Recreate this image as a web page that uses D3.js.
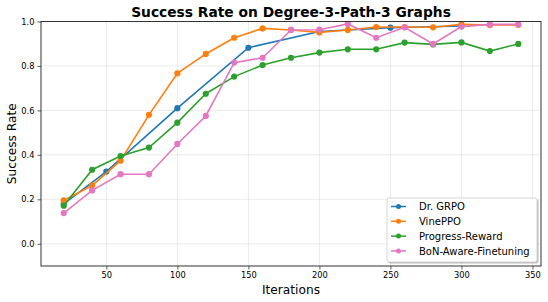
<!DOCTYPE html>
<html><head><meta charset="utf-8">
<script src="https://cdn.jsdelivr.net/npm/d3@7"></script>
<style>body{margin:0;background:#fff;} svg{display:block;font-family:"DejaVu Sans",sans-serif;}</style>
</head><body><svg id="c" width="548" height="302"></svg>
<script>
const xsFull = [20,40,60,80,100,120,140,160,180,200,220,240,260,280,300,320,340];
const xsGrpo = [20,50,100,150,200,250,300];
const drGrpo = [0.18,0.325,0.61,0.882,0.955,0.972,0.98];
const vinePPO = [0.195,0.262,0.374,0.58,0.767,0.854,0.927,0.969,0.962,0.951,0.962,0.975,0.975,0.974,0.987,0.984,0.985];
const progressReward = [0.171,0.333,0.395,0.433,0.545,0.675,0.752,0.804,0.837,0.86,0.875,0.875,0.905,0.897,0.906,0.867,0.899];
const bonAware = [0.138,0.24,0.313,0.313,0.449,0.575,0.815,0.837,0.962,0.963,0.989,0.927,0.974,0.899,0.977,0.987,0.987];
const seriesNames = ["Dr. GRPO","VinePPO","Progress-Reward","BoN-Aware-Finetuning"];
const seriesColors = ["#1f77b4","#ff7f0e","#2ca02c","#e377c2"];
const xTicks = [50,100,150,200,250,300,350];
const yTicks = [0.0,0.2,0.4,0.6,0.8,1.0];

const series = [
  {name:seriesNames[0], color:seriesColors[0], pts:xsGrpo.map((x,i)=>[x,drGrpo[i]])},
  {name:seriesNames[1], color:seriesColors[1], pts:xsFull.map((x,i)=>[x,vinePPO[i]])},
  {name:seriesNames[2], color:seriesColors[2], pts:xsFull.map((x,i)=>[x,progressReward[i]])},
  {name:seriesNames[3], color:seriesColors[3], pts:xsFull.map((x,i)=>[x,bonAware[i]])},
];

const svg = d3.select("#c");
const L=41, R=541, T=21.5, B=266;
const x = d3.scaleLinear().domain([4,356]).range([L,R]);
const y = d3.scaleLinear().domain([-0.1,1.0]).range([B,T]);

// grid
const g = svg.append("g");
g.selectAll(".gx").data(xTicks).enter().append("line")
  .attr("x1",d=>x(d)).attr("x2",d=>x(d)).attr("y1",T).attr("y2",B)
  .attr("stroke","#b0b0b0").attr("stroke-opacity",0.3).attr("stroke-width",0.8);
g.selectAll(".gy").data(yTicks).enter().append("line")
  .attr("x1",L).attr("x2",R).attr("y1",d=>y(d)).attr("y2",d=>y(d))
  .attr("stroke","#b0b0b0").attr("stroke-opacity",0.3).attr("stroke-width",0.8);

// lines
const line = d3.line().x(d=>x(d[0])).y(d=>y(d[1]));
series.forEach(s=>{
  const sg = svg.append("g");
  sg.append("path").datum(s.pts).attr("d",line).attr("fill","none").attr("stroke",s.color).attr("stroke-width",1.6);
  sg.selectAll("circle").data(s.pts).enter().append("circle")
    .attr("cx",d=>x(d[0])).attr("cy",d=>y(d[1])).attr("r",3.1).attr("fill",s.color);
});

// axes
const xa = svg.append("g").attr("transform",`translate(0,${B})`)
  .call(d3.axisBottom(x).tickValues(xTicks).tickFormat(d3.format("d")).tickSize(3.5).tickPadding(3));
const ya = svg.append("g").attr("transform",`translate(${L},0)`)
  .call(d3.axisLeft(y).tickValues(yTicks).tickFormat(d3.format(".1f")).tickSize(3.5).tickPadding(3));
[xa,ya].forEach(a=>{
  a.select(".domain").remove();
  a.selectAll("text").attr("font-size",8.3).attr("font-family","DejaVu Sans").attr("fill","#000");
  a.selectAll("line").attr("stroke","#333").attr("stroke-width",0.8);
});
// frame
svg.append("rect").attr("x",L).attr("y",T).attr("width",R-L).attr("height",B-T)
  .attr("fill","none").attr("stroke","#333").attr("stroke-width",1);

// title and labels
svg.append("text").attr("x",(L+R)/2).attr("y",17).attr("text-anchor","middle")
  .attr("font-size",13.8).attr("font-weight","bold").text("Success Rate on Degree-3-Path-3 Graphs");
svg.append("text").attr("x",(L+R)/2).attr("y",294).attr("text-anchor","middle")
  .attr("font-size",12.2).text("Iterations");
svg.append("text").attr("transform",`translate(16,${(T+B)/2}) rotate(-90)`).attr("text-anchor","middle")
  .attr("font-size",12.2).text("Success Rate");

// legend
const lg = svg.append("g").attr("transform","translate(387,198)");
lg.append("rect").attr("x",1.5).attr("y",1.5).attr("width",150).attr("height",64).attr("rx",2)
  .attr("fill","#000").attr("fill-opacity",0.25);
lg.append("rect").attr("x",0).attr("y",0).attr("width",150).attr("height",64).attr("rx",2)
  .attr("fill","#fff").attr("stroke","#ccc").attr("stroke-width",0.8);
series.forEach((s,i)=>{
  const yy = 8.5 + i*14.8;
  lg.append("line").attr("x1",4).attr("x2",19).attr("y1",yy).attr("y2",yy).attr("stroke",s.color).attr("stroke-width",1.5);
  lg.append("circle").attr("cx",11.5).attr("cy",yy).attr("r",2.5).attr("fill",s.color);
  lg.append("text").attr("x",32).attr("y",yy+3.6).attr("font-size",10).text(s.name);
});
</script></body></html>
